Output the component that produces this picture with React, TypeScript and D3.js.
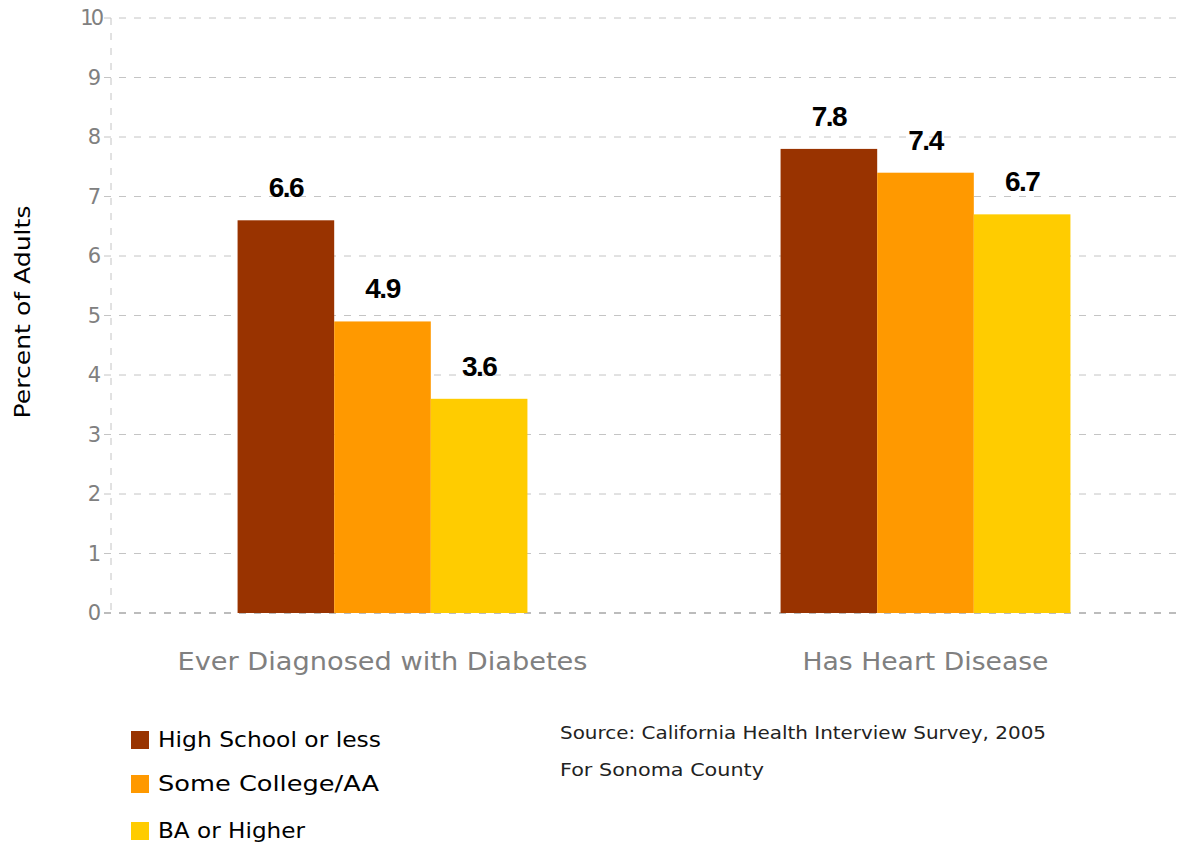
import React from "react";
import * as d3 from "d3";

const categories = ["Ever Diagnosed with Diabetes", "Has Heart Disease"];
const seriesNames = ["High School or less", "Some College/AA", "BA or Higher"];
const seriesValues = [
  [6.6, 4.9, 3.6],
  [7.8, 7.4, 6.7],
];
const colors = ["#993300", "#FF9900", "#FFCC00"];
const yTicks = [0, 1, 2, 3, 4, 5, 6, 7, 8, 9, 10];
const sourceLines = ["Source: California Health Interview Survey, 2005", "For Sonoma County"];

const W = 1180;
const H = 845;
const left = 111;
const top = 18;
const bottom = 613;

export default function App() {
  const x0 = d3.scaleBand().domain(categories).range([left, left + 1086]).padding(0);
  const x1 = d3
    .scaleBand()
    .domain(seriesNames)
    .range([0, x0.bandwidth()])
    .paddingInner(0)
    .paddingOuter(1.31);
  const y = d3.scaleLinear().domain([0, 10]).range([bottom, top]);
  const font = "'DejaVu Sans', sans-serif";

  return (
    <svg width={W} height={H} style={{ position: "absolute", left: 0, top: 0, background: "#fff" }}>
      {yTicks.map((t) => (
        <g key={t}>
          <line
            x1={104}
            x2={W}
            y1={y(t)}
            y2={y(t)}
            stroke={t === 0 ? "#a6a6a6" : "#c4c4c4"}
            strokeWidth={t === 0 ? 1.5 : 1}
            strokeDasharray="7,8"
          />
          <text
            x={101}
            y={y(t) + 7}
            textAnchor="end"
            fontFamily={font}
            fontSize={21}
            fill="#808080"
            letterSpacing={t === 10 ? -3 : 0}
          >
            {t}
          </text>
        </g>
      ))}
      <line x1={left} x2={left} y1={top} y2={bottom} stroke="#c4c4c4" strokeDasharray="7,8" />

      {categories.map((c, ci) => (
        <g key={c} transform={`translate(${x0(c)},0)`}>
          {seriesNames.map((s, si) => {
            const v = seriesValues[ci][si];
            const bx = x1(s)!;
            return (
              <g key={s}>
                <rect x={bx} y={y(v)} width={x1.bandwidth()} height={y(0) - y(v)} fill={colors[si]} />
                <text
                  x={bx + x1.bandwidth() / 2}
                  y={y(v) - 23}
                  textAnchor="middle"
                  fontFamily="'Liberation Sans', Arial, sans-serif"
                  fontWeight="bold"
                  fontSize={28}
                  fill="#000"
                  letterSpacing={-1.5}
                >
                  {v.toFixed(1)}
                </text>
              </g>
            );
          })}
          <text
            x={x0.bandwidth() / 2}
            y={670}
            textAnchor="middle"
            fontFamily={font}
            fontSize={24}
            fill="#808080"
            textLength={ci === 0 ? 410 : 246}
            lengthAdjust="spacingAndGlyphs"
          >
            {c}
          </text>
        </g>
      ))}

      <text
        transform="translate(30,312) rotate(-90)"
        textAnchor="middle"
        fontFamily={font}
        fontSize={21}
        fill="#000"
        textLength={213}
        lengthAdjust="spacingAndGlyphs"
      >
        Percent of Adults
      </text>

      {seriesNames.map((s, i) => {
        const ly = [731, 775, 822][i];
        const lens = [223, 221, 147];
        return (
          <g key={s}>
            <rect x={131} y={ly} width={18} height={18} fill={colors[i]} />
            <text
              x={158}
              y={ly + 16}
              fontFamily={font}
              fontSize={22}
              fill="#000"
              textLength={lens[i]}
              lengthAdjust="spacingAndGlyphs"
            >
              {s}
            </text>
          </g>
        );
      })}

      {sourceLines.map((l, i) => (
        <text
          key={l}
          x={560}
          y={739 + i * 37}
          fontFamily={font}
          fontSize={18}
          fill="#222"
          textLength={i === 0 ? 486 : 204}
          lengthAdjust="spacingAndGlyphs"
        >
          {l}
        </text>
      ))}
    </svg>
  );
}
